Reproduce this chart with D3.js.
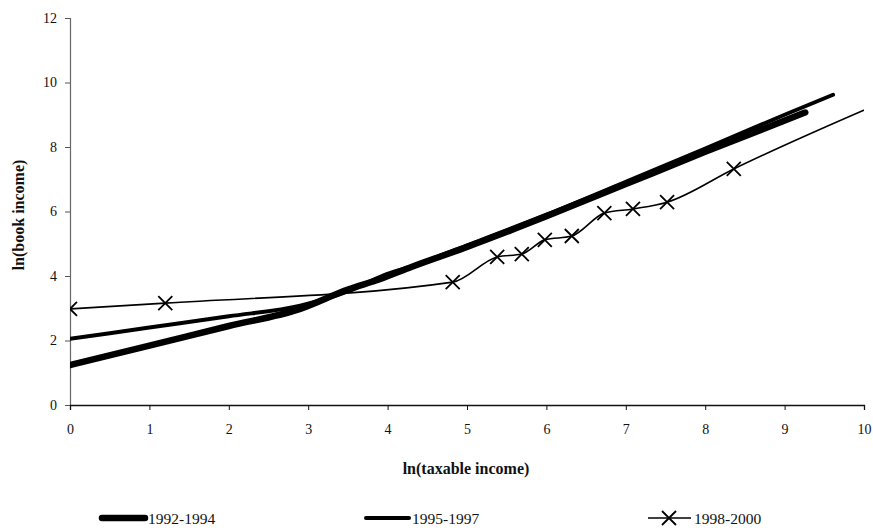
<!DOCTYPE html>
<html>
<head>
<meta charset="utf-8">
<script src="https://cdn.jsdelivr.net/npm/d3@7/dist/d3.min.js"></script>
<style>
  html, body { margin: 0; padding: 0; background: #fff; }
  svg { display: block; }
  svg text { font-family: "Liberation Serif", "Times New Roman", serif !important; }
</style>
</head>
<body>
<svg id="chart" width="873" height="528"></svg>
<script>
// ---- data ----
const xTicks = [0, 1, 2, 3, 4, 5, 6, 7, 8, 9, 10];
const yTicks = [0, 2, 4, 6, 8, 10, 12];

const s1992x = [0, 1, 2, 2.9, 3.5, 3.9, 4.3, 5, 6, 7, 8, 9.26];
const s1992y = [1.24, 1.84, 2.45, 2.98, 3.58, 3.9, 4.28, 4.9, 5.85, 6.85, 7.85, 9.07];

const s1995x = [0, 1, 2, 2.9, 3.5, 3.95, 4.3, 5, 6, 7, 8, 9, 9.61];
const s1995y = [2.05, 2.4, 2.75, 3.08, 3.52, 4.02, 4.3, 4.95, 5.9, 6.92, 7.95, 9.0, 9.62];

const s1998x = [0, 1.2, 4.82, 5.38, 5.69, 5.98, 6.32, 6.73, 7.09, 7.52, 8.36, 10.45];
const s1998y = [2.98, 3.16, 3.81, 4.59, 4.68, 5.12, 5.24, 5.95, 6.08, 6.29, 7.32, 9.62];

const legendLabels = ["1992-1994", "1995-1997", "1998-2000"];

// ---- layout ----
const svg = d3.select("#chart");
const x = d3.scaleLinear().domain([0, 10]).range([70, 864]);
const y = d3.scaleLinear().domain([0, 12]).range([405, 18]);

svg.append("defs").append("clipPath").attr("id", "plotclip")
  .append("rect").attr("x", 70).attr("y", 10).attr("width", 794).attr("height", 400);

// axes
const yAxis = d3.axisLeft(y).tickValues(yTicks).tickSize(5).tickPadding(8);
const gy = svg.append("g").attr("transform", "translate(70,0)").call(yAxis)
  .attr("font-family", "Liberation Serif, serif");
gy.select(".domain").attr("stroke", "#666").attr("stroke-width", 1.2);
gy.selectAll(".tick line").attr("stroke", "#555");
gy.selectAll(".tick text").attr("font-size", 14).attr("fill", "#111");

const xAxis = d3.axisBottom(x).tickValues(xTicks).tickSize(5).tickPadding(14);
const gx = svg.append("g").attr("transform", "translate(0,405)").call(xAxis)
  .attr("font-family", "Liberation Serif, serif");
gx.select(".domain").attr("stroke", "#111").attr("stroke-width", 1.3);
gx.selectAll(".tick line").attr("stroke", "#111");
gx.selectAll(".tick text").attr("font-size", 14).attr("fill", "#111");

// axis titles
svg.append("text").attr("x", 466).attr("y", 474).attr("text-anchor", "middle")
  .attr("font-size", 16).attr("font-weight", "bold").attr("fill", "#111")
  .text("ln(taxable income)");
svg.append("text").attr("transform", "translate(24,215) rotate(-90)")
  .attr("text-anchor", "middle").attr("font-size", 16).attr("font-weight", "bold").attr("fill", "#111")
  .text("ln(book income)");

// lines
const plot = svg.append("g").attr("clip-path", "url(#plotclip)");
const line = d3.line().x(d => x(d[0])).y(d => y(d[1])).curve(d3.curveMonotoneX);

const d1992 = s1992x.map((v, i) => [v, s1992y[i]]);
const d1995 = s1995x.map((v, i) => [v, s1995y[i]]);
const d1998 = s1998x.map((v, i) => [v, s1998y[i]]);

plot.append("path").datum(d1995).attr("d", line).attr("fill", "none")
  .attr("stroke", "#000").attr("stroke-width", 4).attr("stroke-linecap", "round");
plot.append("path").datum(d1992).attr("d", line).attr("fill", "none")
  .attr("stroke", "#000").attr("stroke-width", 6.5).attr("stroke-linecap", "round");
plot.append("path").datum(d1998).attr("d", line).attr("fill", "none")
  .attr("stroke", "#000").attr("stroke-width", 1.6);

const mk = 7;
const cross = `M${-mk},${-mk}L${mk},${mk}M${-mk},${mk}L${mk},${-mk}`;
plot.selectAll(".mk").data(d1998).enter().append("path")
  .attr("class", "mk")
  .attr("transform", d => `translate(${x(d[0])},${y(d[1])})`)
  .attr("d", cross).attr("stroke", "#000").attr("stroke-width", 1.8).attr("fill", "none");

// legend
const legY = 518;
const legItems = [
  { label: legendLabels[0], x0: 102, w: 6.5, marker: false },
  { label: legendLabels[1], x0: 366, w: 4, marker: false },
  { label: legendLabels[2], x0: 648, w: 1.6, marker: true }
];
const lg = svg.append("g");
legItems.forEach(it => {
  lg.append("line").attr("x1", it.x0).attr("x2", it.x0 + 43).attr("y1", legY).attr("y2", legY)
    .attr("stroke", "#000").attr("stroke-width", it.w).attr("stroke-linecap", it.marker ? "butt" : "round");
  if (it.marker) {
    lg.append("path").attr("transform", `translate(${it.x0 + 21},${legY})`)
      .attr("d", cross).attr("stroke", "#000").attr("stroke-width", 1.8);
  }
  lg.append("text").attr("x", it.x0 + 46).attr("y", legY + 5.5)
    .attr("font-size", 15.5).attr("fill", "#111").text(it.label);
});
</script>
</body>
</html>
